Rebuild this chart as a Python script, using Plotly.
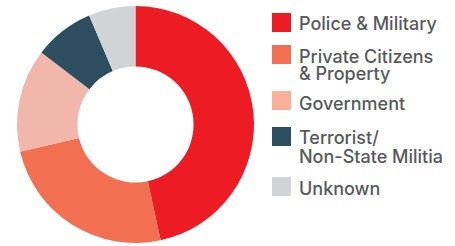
import plotly.graph_objects as go

categories = ["Police & Military", "Private Citizens & Property", "Government",
              "Terrorist/ Non-State Militia", "Unknown"]
values = [46.6, 24.7, 14.1, 8.2, 6.4]
legend_lines = [["Police & Military"], ["Private Citizens", "& Property"], ["Government"],
                ["Terrorist/", "Non-State Militia"], ["Unknown"]]
slice_colors = ["#ED1C24", "#F26F52", "#F1B7AA", "#2D4E5E", "#D1D3D4"]
swatch_colors = ["#ED1C24", "#F26F52", "#F8B09A", "#2D4E5E", "#D1D3D4"]

W, H = 455, 246
fig = go.Figure(go.Pie(
    labels=categories, values=values, sort=False, direction="clockwise", rotation=0,
    hole=0.49, marker=dict(colors=slice_colors, line=dict(width=0)),
    textinfo="none", hoverinfo="label+percent",
    domain=dict(x=[16 / W, 255 / W], y=[3 / H, 240 / H]),
))

# manual legend (swatch tops in px, line cap-centre positions in px)
swatch_tops = [13, 45, 91, 127, 177]
line_centres = [[23], [56, 73], [103], [137, 156], [188]]
font = dict(family="Inter", size=18, color="#58595B", weight=500)
shapes, annotations = [], []
for i, col in enumerate(swatch_colors):
    t = swatch_tops[i]
    shapes.append(dict(type="rect", xref="paper", yref="paper",
                       x0=272 / W, x1=291 / W, y0=1 - (t + 19) / H, y1=1 - t / H,
                       fillcolor=col, line=dict(width=0)))
    for txt, yc in zip(legend_lines[i], line_centres[i]):
        annotations.append(dict(text=txt, xref="paper", yref="paper", x=297 / W,
                                y=1 - yc / H, xanchor="left", yanchor="middle",
                                showarrow=False, font=font))

fig.update_layout(width=W, height=H, margin=dict(l=0, r=0, t=0, b=0),
                  paper_bgcolor="white", plot_bgcolor="white", showlegend=False,
                  shapes=shapes, annotations=annotations)
fig.write_html("out.html", config={"displayModeBar": False},
               post_script="document.body.style.margin='0';")
